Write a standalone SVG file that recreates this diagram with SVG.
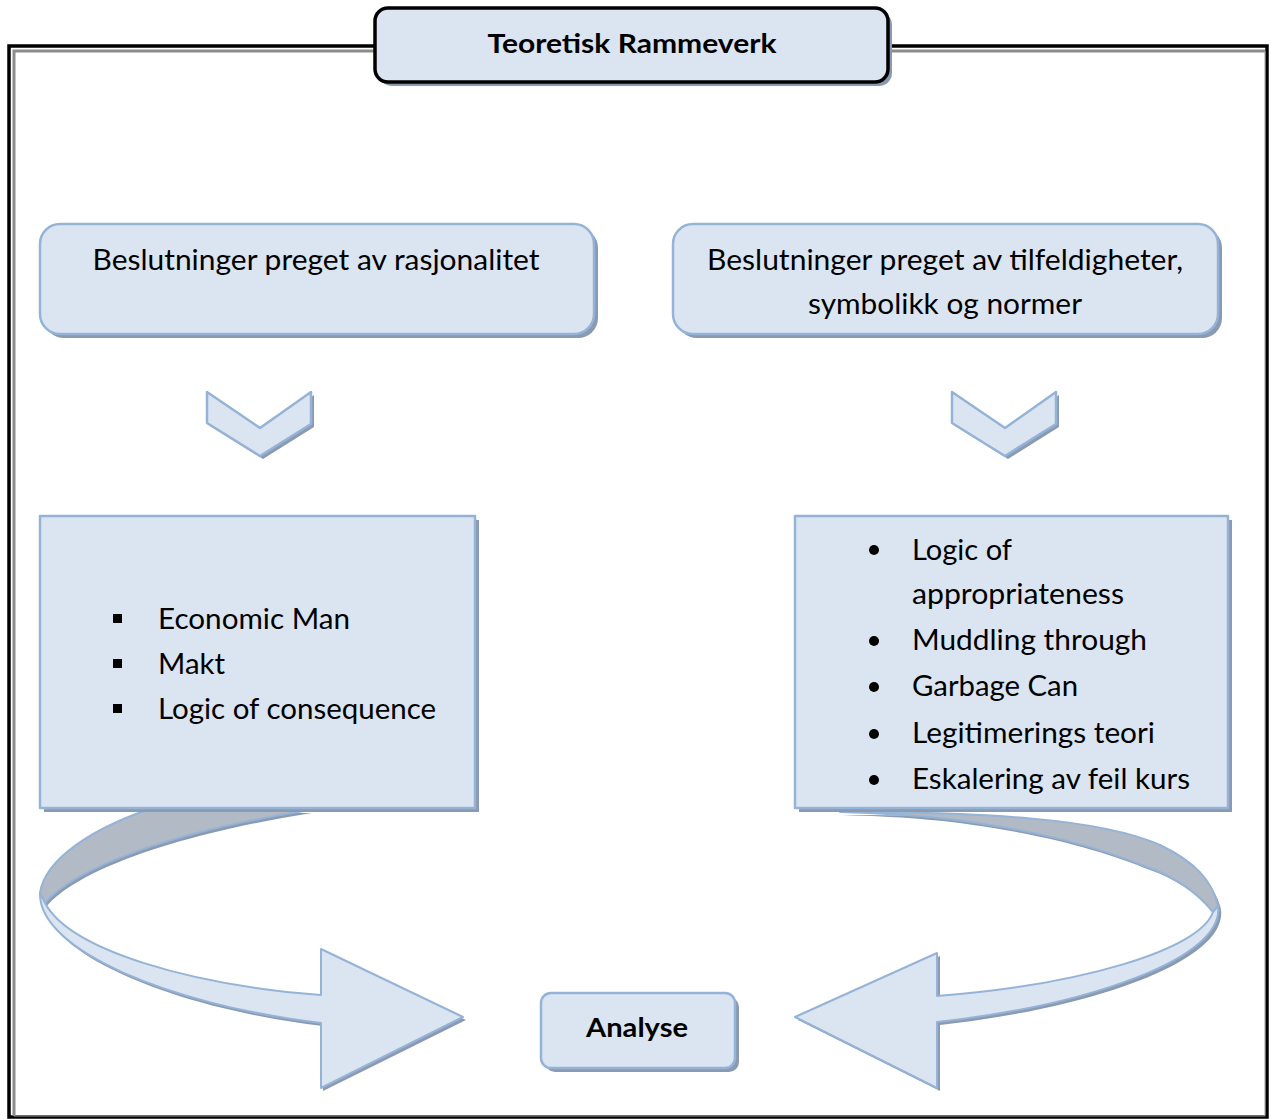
<svg xmlns="http://www.w3.org/2000/svg" width="1271" height="1119" viewBox="0 0 1271 1119">
  <style>
    .t { font-family: Lato, "Liberation Sans", sans-serif; fill: #000; }
    .reg { font-size: 28px; }
    .bold { font-size: 26px; font-weight: bold; }
    .fill { fill: #dbe5f1; stroke: #95b3d7; stroke-width: 2.5; stroke-linejoin: round; }
    .shadow { fill: #8a9ab1; }
    .back { fill: #b2bac5; stroke: #95b3d7; stroke-width: 2; stroke-linejoin: round; }
    .band { fill: #dbe5f1; stroke: #95b3d7; stroke-width: 2; stroke-linejoin: round; }
  </style>

  <rect width="1271" height="1119" fill="#ffffff"/>

  <!-- outer frame: black outline with grey inner rule -->
  <g id="frame" fill="none">
    <rect x="9" y="46" width="1258" height="1071" stroke="#000" stroke-width="3.5"/>
    <polyline points="14,1116 14,51 1265,51" stroke="#8c8c8c" stroke-width="3"/>
    <line x1="1265" y1="51" x2="1265" y2="1116" stroke="#9a9a9a" stroke-width="1"/>
    <line x1="14" y1="1116" x2="1265" y2="1116" stroke="#9a9a9a" stroke-width="1"/>
  </g>

  <!-- curved return arrows (drawn beneath the list boxes) -->
  <g id="connectors">
    <g id="arrow-left">
      <!-- back face of ribbon -->
      <path class="shadow" d="M149,813 C97,831 47,861 42,896 L47,906 C77,871 172,835 312,813 Z"/>
      <path class="back" d="M147,810 C95,828 45,858 40,893 L45,903 C75,868 170,832 310,810 Z"/>
      <!-- front face and head -->
      <path class="shadow" d="M42,896 C40,953 172,1008 323,1026 L323,1091 L466,1020 L323,952 L323,998 C192,988 72,953 47,906 Z"/>
      <path class="band" d="M40,893 C38,950 170,1005 321,1023 L321,1088 L463,1017 L321,949 L321,995 C190,985 70,950 45,903 Z"/>
    </g>
    <g id="arrow-right">
      <path class="shadow" d="M842,815 C982,815 1102,821 1162,848 C1197,865 1214,883 1221,909 L1216,915 C1198,893 1173,878 1150,870 C1103,851 1043,833 943,821 C903,817 873,816 842,815 Z"/>
      <path class="back" d="M840,812 C980,812 1100,818 1160,845 C1195,862 1212,880 1218,906 L1213,912 C1195,890 1170,875 1147,867 C1100,848 1040,830 940,818 C900,814 870,813 840,812 Z"/>
      <path class="shadow" d="M1221,909 C1228,961 1093,1008 940,1025 L940,1091 L798,1020 L940,956 L940,999 C1083,988 1203,953 1216,915 Z"/>
      <path class="band" d="M1218,906 C1225,958 1090,1005 937,1022 L937,1088 L795,1017 L937,953 L937,996 C1080,985 1200,950 1213,912 Z"/>
    </g>
  </g>

  <!-- title -->
  <g id="title">
    <rect x="379" y="12" width="513" height="74" rx="13" fill="#8a9ab1"/>
    <rect x="375" y="8" width="513" height="74" rx="13" fill="#dbe5f1" stroke="#000" stroke-width="3.5"/>
    <text class="t bold" x="632" y="53" text-anchor="middle" textLength="289" lengthAdjust="spacingAndGlyphs">Teoretisk Rammeverk</text>
  </g>

  <!-- upper category boxes -->
  <g id="box-rasjonalitet">
    <rect x="44" y="228" width="554" height="110" rx="20" class="shadow"/>
    <rect x="40" y="224" width="554" height="110" rx="20" class="fill"/>
    <text class="t reg" x="316" y="270" text-anchor="middle" textLength="447" lengthAdjust="spacingAndGlyphs">Beslutninger preget av rasjonalitet</text>
  </g>
  <g id="box-tilfeldigheter">
    <rect x="677" y="228" width="545" height="110" rx="20" class="shadow"/>
    <rect x="673" y="224" width="545" height="110" rx="20" class="fill"/>
    <text class="t reg" x="945" y="270" text-anchor="middle" textLength="476" lengthAdjust="spacingAndGlyphs">Beslutninger preget av tilfeldigheter,</text>
    <text class="t reg" x="945" y="314" text-anchor="middle" textLength="274" lengthAdjust="spacingAndGlyphs">symbolikk og normer</text>
  </g>

  <!-- chevrons -->
  <g id="chevron-left">
    <polygon class="shadow" points="210,395 263,431 314,395 314,427 263,459 210,426"/>
    <polygon class="fill" points="207,392 260,428 311,392 311,424 260,456 207,423"/>
  </g>
  <g id="chevron-right">
    <polygon class="shadow" points="955,395 1008,431 1059,395 1059,427 1008,459 955,426"/>
    <polygon class="fill" points="952,392 1005,428 1056,392 1056,424 1005,456 952,423"/>
  </g>

  <!-- list boxes -->
  <g id="list-rasjonalitet">
    <rect x="44" y="520" width="435" height="292" class="shadow"/>
    <rect x="40" y="516" width="435" height="292" class="fill"/>
    <rect x="113" y="614" width="9" height="9" fill="#000"/>
    <rect x="113" y="659" width="9" height="9" fill="#000"/>
    <rect x="113" y="704" width="9" height="9" fill="#000"/>
    <text class="t reg" x="158" y="629" textLength="192" lengthAdjust="spacingAndGlyphs">Economic Man</text>
    <text class="t reg" x="158" y="674" textLength="67" lengthAdjust="spacingAndGlyphs">Makt</text>
    <text class="t reg" x="158" y="719" textLength="278" lengthAdjust="spacingAndGlyphs">Logic of consequence</text>
  </g>
  <g id="list-tilfeldigheter">
    <rect x="799" y="520" width="433" height="292" class="shadow"/>
    <rect x="795" y="516" width="433" height="292" class="fill"/>
    <circle cx="874" cy="550" r="5" fill="#000"/>
    <circle cx="874" cy="641" r="5" fill="#000"/>
    <circle cx="874" cy="687" r="5" fill="#000"/>
    <circle cx="874" cy="734" r="5" fill="#000"/>
    <circle cx="874" cy="780" r="5" fill="#000"/>
    <text class="t reg" x="912" y="560" textLength="100" lengthAdjust="spacingAndGlyphs">Logic of</text>
    <text class="t reg" x="912" y="604" textLength="212" lengthAdjust="spacingAndGlyphs">appropriateness</text>
    <text class="t reg" x="912" y="650" textLength="235" lengthAdjust="spacingAndGlyphs">Muddling through</text>
    <text class="t reg" x="912" y="696" textLength="166" lengthAdjust="spacingAndGlyphs">Garbage Can</text>
    <text class="t reg" x="912" y="743" textLength="243" lengthAdjust="spacingAndGlyphs">Legitimerings teori</text>
    <text class="t reg" x="912" y="789" textLength="278" lengthAdjust="spacingAndGlyphs">Eskalering av feil kurs</text>
  </g>

  <!-- target -->
  <g id="analyse">
    <rect x="545" y="997" width="194" height="75" rx="10" class="shadow"/>
    <rect x="541" y="993" width="194" height="75" rx="10" class="fill"/>
    <text class="t bold" x="637" y="1037" text-anchor="middle" textLength="102" lengthAdjust="spacingAndGlyphs">Analyse</text>
  </g>
</svg>
